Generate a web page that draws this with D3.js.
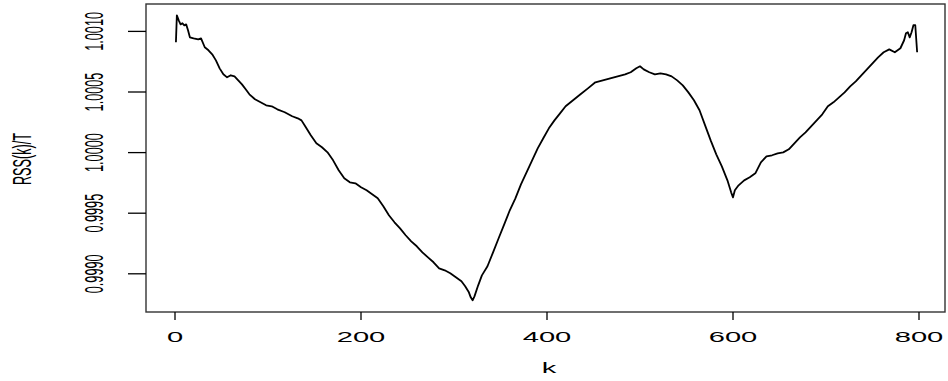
<!DOCTYPE html>
<html lang="en">
<head>
<meta charset="UTF-8">
<title>RSS(k)/T</title>
<script src="https://d3js.org/d3.v7.min.js"></script>
<style>
  body { margin: 0; background: #fff; }
  text { font-family: "Liberation Sans", Arial, sans-serif; fill: #000; }
</style>
</head>
<body>
<div id="chart"></div>
<script>
// values
var kValues = [1, 2, 4, 6, 8, 10, 12, 14, 16, 20, 25, 28, 32, 36, 40, 44, 48, 52, 56, 60,
    64, 68, 72, 76, 80, 86, 92, 98, 104, 110, 118, 126, 132, 136, 140, 146, 152, 158, 164, 170,
    176, 182, 188, 194, 200, 206, 212, 218, 224, 230, 236, 242, 248, 254, 260, 266, 272, 278, 284, 290,
    296, 302, 308, 312, 316, 318, 320, 322, 326, 330, 336, 342, 348, 354, 360, 366, 372, 378, 384, 390,
    396, 402, 408, 414, 420, 428, 436, 444, 452, 460, 468, 476, 484, 490, 496, 500, 504, 510, 516, 522,
    528, 534, 540, 546, 552, 558, 564, 570, 576, 582, 588, 594, 598, 600, 602, 606, 612, 618, 624, 630,
    636, 642, 648, 654, 660, 666, 672, 678, 684, 690, 696, 702, 708, 714, 720, 726, 732, 738, 744, 750,
    756, 762, 768, 774, 780, 784, 786, 788, 790, 792, 794, 796, 798];

var rssValues = [1.000910, 1.001133, 1.001091, 1.001058, 1.001067, 1.001050, 1.001058, 1.001009, 1.000951, 1.000943,
    1.000935, 1.000943, 1.000869, 1.000844, 1.000811, 1.000761, 1.000695, 1.000646, 1.000621, 1.000638,
    1.000629, 1.000596, 1.000563, 1.000522, 1.000481, 1.000440, 1.000415, 1.000390, 1.000382, 1.000357,
    1.000333, 1.000300, 1.000283, 1.000266, 1.000217, 1.000143, 1.000077, 1.000044, 1.000002, 0.999936,
    0.999854, 0.999788, 0.999755, 0.999747, 0.999714, 0.999689, 0.999656, 0.999623, 0.999557, 0.999483,
    0.999425, 0.999375, 0.999318, 0.999268, 0.999227, 0.999177, 0.999136, 0.999095, 0.999045, 0.999029,
    0.999004, 0.998971, 0.998938, 0.998897, 0.998847, 0.998806, 0.998781, 0.998814, 0.998905, 0.998987,
    0.999062, 0.999177, 0.999293, 0.999408, 0.999524, 0.999623, 0.999738, 0.999837, 0.999936, 1.000035,
    1.000118, 1.000200, 1.000266, 1.000324, 1.000382, 1.000432, 1.000481, 1.000530, 1.000580, 1.000596,
    1.000613, 1.000629, 1.000646, 1.000663, 1.000696, 1.000712, 1.000687, 1.000663, 1.000646, 1.000654,
    1.000646, 1.000629, 1.000596, 1.000555, 1.000497, 1.000432, 1.000349, 1.000225, 1.000101, 0.999986,
    0.999887, 0.999771, 0.999672, 0.999631, 0.999689, 0.999730, 0.999771, 0.999796, 0.999829, 0.999920,
    0.999969, 0.999978, 0.999994, 1.000002, 1.000027, 1.000077, 1.000126, 1.000167, 1.000217, 1.000266,
    1.000316, 1.000382, 1.000415, 1.000456, 1.000497, 1.000547, 1.000588, 1.000638, 1.000687, 1.000737,
    1.000786, 1.000828, 1.000852, 1.000828, 1.000861, 1.000927, 1.000984, 1.000993, 1.000951, 1.000993,
    1.001051, 1.001051, 1.000828];

var xTicks = [0, 200, 400, 600, 800];
var yTicks = [0.9990, 0.9995, 1.0000, 1.0005, 1.0010];

var width = 948, height = 381;
var box = {left: 146, right: 945, top: 4, bottom: 312};
var stretch = 2.08; // text in the original is widened horizontally

var svg = d3.select("#chart").append("svg")
    .attr("width", width)
    .attr("height", height);

var x = d3.scaleLinear()
    .domain([0, 800])
    .range([175, 919]);

var y = d3.scaleLinear()
    .domain([0.9990, 1.0010])
    .range([273.8, 31.4]);

var data = kValues.map(function(k, i) { return {k: k, v: rssValues[i]}; });

// the curve
svg.append("path")
    .datum(data)
    .attr("fill", "none")
    .attr("stroke", "#000")
    .attr("stroke-width", 1.8)
    .attr("stroke-linejoin", "round")
    .attr("d", d3.line()
        .x(function(d) { return x(d.k); })
        .y(function(d) { return y(d.v); }));

// plot box
svg.append("rect")
    .attr("x", box.left)
    .attr("y", box.top)
    .attr("width", box.right - box.left)
    .attr("height", box.bottom - box.top)
    .attr("fill", "none")
    .attr("stroke", "#333")
    .attr("stroke-width", 1.4);

// x axis ticks + labels
svg.append("g").selectAll("line")
    .data(xTicks).enter().append("line")
    .attr("x1", function(d) { return x(d); })
    .attr("x2", function(d) { return x(d); })
    .attr("y1", box.bottom)
    .attr("y2", box.bottom + 8)
    .attr("stroke", "#000")
    .attr("stroke-width", 1.3);

svg.append("g").selectAll("text")
    .data(xTicks).enter().append("text")
    .attr("transform", function(d) {
        return "translate(" + x(d) + ",341.7) scale(" + stretch + ",1)";
    })
    .attr("text-anchor", "middle")
    .style("font-size", "14px")
    .text(function(d) { return d; });

// y axis ticks + labels
svg.append("g").selectAll("line")
    .data(yTicks).enter().append("line")
    .attr("x1", 128)
    .attr("x2", box.left)
    .attr("y1", function(d) { return y(d); })
    .attr("y2", function(d) { return y(d); })
    .attr("stroke", "#000")
    .attr("stroke-width", 1.3);

svg.append("g").selectAll("text")
    .data(yTicks).enter().append("text")
    .attr("transform", function(d) {
        return "translate(103.3," + y(d) + ") scale(" + stretch + ",1) rotate(-90)";
    })
    .attr("text-anchor", "middle")
    .style("font-size", "12.7px")
    .text(function(d) { return d.toFixed(4); });

// axis titles
svg.append("text")
    .attr("transform", "translate(549,373.3) scale(" + stretch + ",1)")
    .attr("text-anchor", "middle")
    .style("font-size", "14px")
    .text("k");

svg.append("text")
    .attr("transform", "translate(30.5,159) scale(" + stretch + ",1) rotate(-90)")
    .attr("text-anchor", "middle")
    .style("font-size", "12.7px")
    .text("RSS(k)/T");
</script>
</body>
</html>
